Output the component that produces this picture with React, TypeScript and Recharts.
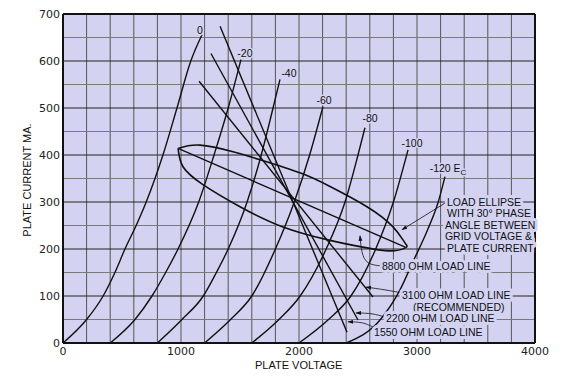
import React from 'react';
import { ComposedChart, Line, XAxis, YAxis, ReferenceLine, ReferenceArea, ReferenceDot } from 'recharts';

const BG = '#d3d3f1';
const INK = '#111';

const X_TICKS = [0, 1000, 2000, 3000, 4000];
const Y_TICKS = [0, 100, 200, 300, 400, 500, 600, 700];
const GRID_V = [200, 400, 600, 800, 1000, 1200, 1400, 1600, 1800, 2000, 2200, 2400, 2600, 2800, 3000, 3200, 3400, 3600, 3800];
const GRID_I_HALF = [50, 150, 250, 350, 450, 550, 650];
const GRID_I_FULL = [100, 200, 300, 400, 500, 600];

// plate curves, one per grid voltage (plate volts v, plate mA i)
const EC_0 = [
  { v: 0, i: 0 }, { v: 200, i: 50 }, { v: 340, i: 100 }, { v: 440, i: 150 }, { v: 525, i: 200 },
  { v: 620, i: 250 }, { v: 705, i: 300 }, { v: 847, i: 400 }, { v: 966, i: 500 }, { v: 1083, i: 600 }, { v: 1178, i: 656 },
];
const EC_20 = [
  { v: 400, i: 0 }, { v: 610, i: 50 }, { v: 754, i: 100 }, { v: 870, i: 150 }, { v: 975, i: 200 },
  { v: 1150, i: 300 }, { v: 1280, i: 400 }, { v: 1400, i: 500 }, { v: 1508, i: 603 },
];
const EC_40 = [
  { v: 800, i: 0 }, { v: 1008, i: 50 }, { v: 1189, i: 100 }, { v: 1300, i: 150 }, { v: 1400, i: 200 },
  { v: 1560, i: 300 }, { v: 1680, i: 400 }, { v: 1780, i: 500 }, { v: 1839, i: 561 },
];
const EC_60 = [
  { v: 1200, i: 0 }, { v: 1420, i: 50 }, { v: 1600, i: 100 }, { v: 1800, i: 200 },
  { v: 1960, i: 300 }, { v: 2090, i: 400 }, { v: 2203, i: 503 },
];
const EC_80 = [
  { v: 1600, i: 0 }, { v: 1830, i: 50 }, { v: 2010, i: 100 }, { v: 2230, i: 200 },
  { v: 2390, i: 300 }, { v: 2500, i: 400 }, { v: 2559, i: 458 },
];
const EC_100 = [
  { v: 2000, i: 0 }, { v: 2250, i: 50 }, { v: 2440, i: 100 }, { v: 2650, i: 200 },
  { v: 2800, i: 300 }, { v: 2924, i: 411 },
];
const EC_120 = [
  { v: 2400, i: 0 }, { v: 2690, i: 50 }, { v: 2856, i: 113 }, { v: 2966, i: 173 },
  { v: 3090, i: 241 }, { v: 3180, i: 300 }, { v: 3237, i: 354 },
];
const PLATE_CURVES = [EC_0, EC_20, EC_40, EC_60, EC_80, EC_100, EC_120];

// load lines
const LL_1550 = [{ v: 1331, i: 674 }, { v: 2407, i: 23 }];
const LL_2200 = [{ v: 1254, i: 616 }, { v: 2500, i: 49 }];
const LL_3100 = [{ v: 1153, i: 557 }, { v: 2627, i: 98 }];
const LL_8800 = [{ v: 975, i: 414 }, { v: 2900, i: 204 }];
const LOAD_LINES = [LL_1550, LL_2200, LL_3100, LL_8800];

// load ellipse, read round the outline
const ELLIPSE = [
  { v: 975, i: 414 }, { v: 1161, i: 421 }, { v: 1441, i: 407 }, { v: 1669, i: 390 }, { v: 2008, i: 362 },
  { v: 2263, i: 333 }, { v: 2576, i: 290 }, { v: 2797, i: 247 }, { v: 2898, i: 213 }, { v: 2905, i: 203 },
  { v: 2771, i: 196 }, { v: 2517, i: 205 }, { v: 2237, i: 220 }, { v: 1864, i: 247 }, { v: 1500, i: 290 },
  { v: 1186, i: 337 }, { v: 1017, i: 375 }, { v: 975, i: 414 },
];

// leader lines from the notes to the curves
const LEADERS = [
  [{ v: 3246, i: 299 }, { v: 2873, i: 241 }],
  [{ v: 2695, i: 164 }, { v: 2585, i: 171 }, { v: 2534, i: 194 }, { v: 2517, i: 228 }],
  [{ v: 2864, i: 107 }, { v: 2729, i: 113 }, { v: 2568, i: 119 }],
  [{ v: 2729, i: 55 }, { v: 2619, i: 62 }, { v: 2483, i: 64 }],
  [{ v: 2627, i: 34 }, { v: 2534, i: 43 }, { v: 2415, i: 45 }],
];

const CURVE_LABELS = [
  { v: 1161, i: 667, text: '0' },
  { v: 1542, i: 616, text: '-20' },
  { v: 1915, i: 574, text: '-40' },
  { v: 2212, i: 518, text: '-60' },
  { v: 2602, i: 478, text: '-80' },
  { v: 2958, i: 426, text: '-100' },
];

const NOTES = [
  { v: 3254, i: 301, text: 'LOAD ELLIPSE' },
  { v: 3254, i: 277, text: 'WITH 30° PHASE' },
  { v: 3237, i: 252, text: 'ANGLE BETWEEN' },
  { v: 3237, i: 228, text: 'GRID VOLTAGE  &' },
  { v: 3254, i: 203, text: 'PLATE CURRENT' },
  { v: 2703, i: 164, text: '8800 OHM LOAD LINE' },
  { v: 2873, i: 102, text: '3100 OHM LOAD LINE' },
  { v: 2966, i: 77, text: '(RECOMMENDED)' },
  { v: 2737, i: 53, text: '2200 OHM LOAD LINE' },
  { v: 2636, i: 23, text: '1550 OHM LOAD LINE' },
];

const FONT = '"Liberation Sans", Arial, sans-serif';
const TICK_FONT = '"DejaVu Sans", sans-serif';

const textShape = (text: string, anchor: 'start' | 'middle', halo: number) => (props: any) => (
  <text
    x={props.cx}
    y={props.cy}
    textAnchor={anchor}
    dominantBaseline="central"
    fontFamily={FONT}
    fontSize={10.5}
    fill={INK}
    stroke={BG}
    strokeWidth={halo}
    strokeLinejoin="round"
    paintOrder="stroke"
  >
    {text}
  </text>
);

const ecShape = (props: any) => (
  <text x={props.cx} y={props.cy} textAnchor="middle" dominantBaseline="central" fontFamily={FONT} fontSize={10.5} fill={INK} stroke={BG} strokeWidth={3} paintOrder="stroke">
    -120 E<tspan fontSize={8} dy={4}>C</tspan>
  </text>
);

export default function App() {
  return (
    <div style={{ position: 'absolute', left: 0, top: 0, width: 578, height: 379, background: '#fff' }}>
      <svg width={0} height={0} style={{ position: 'absolute' }}>
        <defs>
          <marker id="arr" viewBox="0 0 10 10" refX="9" refY="5" markerWidth="7" markerHeight="7" orient="auto">
            <path d="M0,1.5 L10,5 L0,8.5 z" fill={INK} />
          </marker>
        </defs>
      </svg>
      <ComposedChart width={578} height={379} margin={{ top: 14, right: 43, bottom: 16, left: 23 }}>
        <XAxis
          type="number"
          dataKey="v"
          domain={[0, 4000]}
          ticks={X_TICKS}
          height={20}
          tickLine={false}
          tickSize={2}
          tickMargin={2}
          axisLine={{ stroke: INK, strokeWidth: 2 }}
          tick={{ fontSize: 11, fill: '#222', fontFamily: TICK_FONT }}
        />
        <YAxis
          type="number"
          dataKey="i"
          domain={[0, 700]}
          ticks={Y_TICKS}
          width={40}
          tickLine={false}
          tickSize={3}
          tickMargin={0}
          axisLine={{ stroke: INK, strokeWidth: 2 }}
          tick={{ fontSize: 11, fill: '#222', fontFamily: TICK_FONT }}
        />
        <ReferenceArea x1={0} x2={4000} y1={0} y2={700} fill={BG} fillOpacity={1} stroke="none" />
        {GRID_V.map((v) => (
          <ReferenceLine key={`gv${v}`} x={v} stroke="#555" strokeWidth={1} />
        ))}
        {GRID_I_HALF.map((i) => (
          <ReferenceLine key={`gh${i}`} y={i} stroke="#7a7a7a" strokeWidth={1} />
        ))}
        {GRID_I_FULL.map((i) => (
          <ReferenceLine key={`gf${i}`} y={i} stroke="#222" strokeWidth={1} />
        ))}
        <ReferenceLine x={4000} stroke={INK} strokeWidth={2} />
        <ReferenceLine y={700} stroke={INK} strokeWidth={2} />

        {PLATE_CURVES.map((c, k) => (
          <Line key={`ec${k}`} data={c} dataKey="i" type="monotone" stroke={INK} strokeWidth={1.4} dot={false} activeDot={false} isAnimationActive={false} />
        ))}
        {LOAD_LINES.map((c, k) => (
          <Line key={`ll${k}`} data={c} dataKey="i" type="linear" stroke={INK} strokeWidth={1.4} dot={false} activeDot={false} isAnimationActive={false} />
        ))}
        <Line data={ELLIPSE} dataKey="i" type="natural" stroke={INK} strokeWidth={1.6} dot={false} activeDot={false} isAnimationActive={false} />
        {LEADERS.map((c, k) => (
          <Line key={`ld${k}`} data={c} dataKey="i" type="natural" stroke={INK} strokeWidth={0.8} dot={false} activeDot={false} markerEnd="url(#arr)" isAnimationActive={false} />
        ))}

        {CURVE_LABELS.map((l) => (
          <ReferenceDot key={l.text} x={l.v} y={l.i} r={0} shape={textShape(l.text, 'middle', 3)} />
        ))}
        <ReferenceDot x={3263} y={373} r={0} shape={ecShape} />
        {NOTES.map((n) => (
          <ReferenceDot key={n.text} x={n.v} y={n.i} r={0} shape={textShape(n.text, 'start', 6)} />
        ))}
      </ComposedChart>
      <div style={{ position: 'absolute', left: 255, top: 359, width: 85, textAlign: 'center', fontFamily: FONT, fontSize: 11, color: INK, whiteSpace: 'nowrap' }}>
        PLATE VOLTAGE
      </div>
      <div style={{ position: 'absolute', left: 27, top: 180, transform: 'translate(-50%, -50%) rotate(-90deg)', fontFamily: FONT, fontSize: 11, color: INK, whiteSpace: 'nowrap' }}>
        PLATE CURRENT MA.
      </div>
    </div>
  );
}
